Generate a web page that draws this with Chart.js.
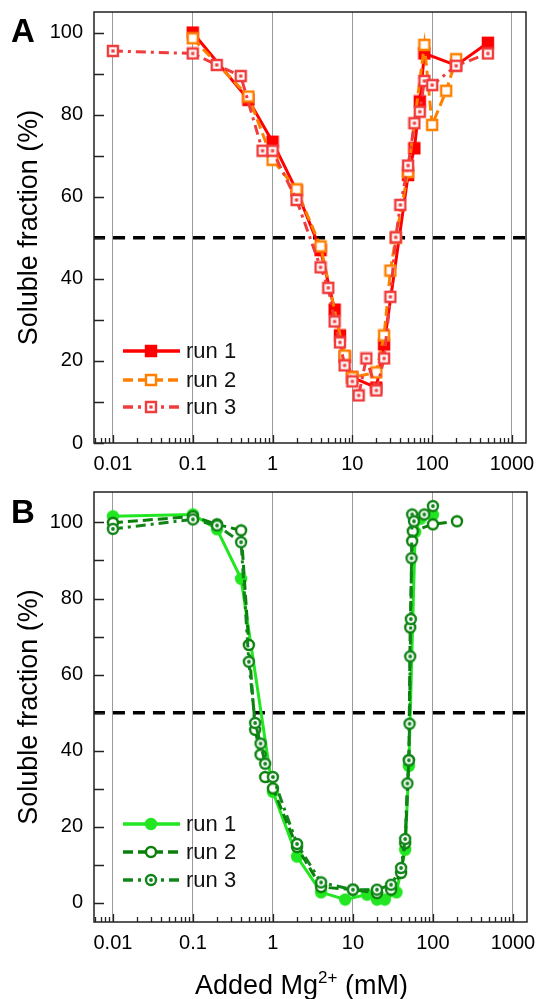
<!DOCTYPE html>
<html><head><meta charset="utf-8">
<script src="https://cdn.jsdelivr.net/npm/chart.js@4.4.1/dist/chart.umd.min.js"></script>
<style>
html,body{margin:0;padding:0;background:#fff;}
#wrap{position:relative;width:537px;height:999px;overflow:hidden;}
canvas{position:absolute;left:0;}
#cA{top:0;} #cB{top:480px;}
</style></head><body>
<div id="wrap"><canvas id="cA" width="537" height="480"></canvas><canvas id="cB" width="537" height="519"></canvas></div>
<script>
// ---------- data ----------
const xTicks = [0.01, 0.1, 1, 10, 100, 1000];
const xTickLabels = ['0.01', '0.1', '1', '10', '100', '1000'];
const yTicks = [0, 20, 40, 60, 80, 100];
const yMinorTicks = [0, 10, 20, 30, 40, 50, 60, 70, 80, 90, 100];
const seriesNames = ['run 1', 'run 2', 'run 3'];
const thresholdX = [0.001, 10000];
const thresholdY = [50, 50];

// Panel A
const aRun1X = [0.1, 0.5, 1, 2, 4, 6, 7, 8, 10, 20, 25, 50, 60, 70, 80, 200, 500];
const aRun1Y = [100, 83.6, 73.4, 61.5, 47.0, 32.5, 26.2, 21.0, 16.0, 13.5, 24.0, 65.3, 71.8, 83.2, 94.9, 92.0, 97.5];
const aRun2X = [0.1, 0.5, 1, 2, 4, 8, 10, 20, 25, 30, 35, 50, 80, 100, 150, 200];
const aRun2Y = [98.6, 84.4, 69.0, 61.8, 47.9, 21.3, 16.0, 17.2, 26.2, 42.0, 50.0, 66.0, 97.0, 77.5, 85.8, 93.5];
const aRun3X = [0.01, 0.1, 0.2, 0.4, 0.75, 1, 2, 4, 5, 6, 7, 8, 10, 12, 15, 20, 25, 30, 35, 40, 50, 60, 70, 80, 100, 200, 500];
const aRun3Y = [95.5, 94.9, 92.1, 89.4, 71.2, 71.2, 59.2, 42.8, 37.8, 29.6, 24.5, 18.9, 15.0, 11.6, 20.6, 12.8, 20.6, 35.6, 50.1, 58.0, 67.6, 77.9, 80.7, 88.2, 87.2, 91.9, 94.9];

// Panel B
const bRun1X = [0.01, 0.1, 0.2, 0.4, 1, 2, 4, 8, 15, 20, 25, 35, 45, 50, 60, 70, 100];
const bRun1Y = [101.6, 102.1, 98.2, 85.2, 29.2, 12.2, 2.8, 0.9, 2.2, 0.9, 0.9, 2.8, 14.0, 36.0, 97.5, 101.0, 102.0];
const bRun2X = [0.01, 0.1, 0.2, 0.4, 0.5, 0.6, 0.7, 0.8, 1, 2, 4, 10, 20, 30, 40, 45, 50, 52, 55, 56, 100, 200];
const bRun2Y = [99.9, 101.6, 99.5, 97.9, 67.8, 45.5, 39.0, 33.1, 30.1, 14.7, 4.2, 3.5, 2.6, 3.5, 7.9, 15.7, 37.5, 72.4, 95.1, 97.7, 99.5, 100.3];
const bRun3X = [0.01, 0.1, 0.2, 0.4, 0.5, 0.6, 0.7, 0.8, 1, 2, 4, 10, 20, 30, 40, 45, 48, 50, 51, 52, 53, 54, 55, 58, 78, 100];
const bRun3Y = [98.3, 100.8, 99.2, 94.8, 63.4, 47.3, 41.9, 36.6, 33.1, 15.5, 5.4, 3.5, 3.5, 4.8, 9.2, 16.8, 31.4, 37.5, 47.1, 64.8, 74.6, 90.6, 102.1, 100.3, 102.1, 104.3];

// ---------- helpers ----------
const FONT = 'Liberation Sans, Arial, sans-serif';
Chart.defaults.font.family = FONT;
Chart.defaults.color = '#000';

function pts(xs, ys) { return xs.map((x, i) => ({ x: x, y: ys[i] })); }

function marker(shape, s, color, filled, dot) {
  const lw = 2.4;
  const n = Math.ceil(s + lw + 1);
  const c = document.createElement('canvas');
  c.width = n; c.height = n;
  const g = c.getContext('2d');
  const m = n / 2;
  g.lineWidth = lw; g.strokeStyle = color; g.fillStyle = filled ? color : '#fff';
  g.beginPath();
  if (shape === 'sq') g.rect(m - s / 2, m - s / 2, s, s); else g.arc(m, m, s / 2, 0, Math.PI * 2);
  g.fill(); g.stroke();
  if (dot) {
    g.fillStyle = color; g.beginPath();
    if (shape === 'sq') g.rect(m - 1.6, m - 1.6, 3.2, 3.2); else g.arc(m, m, 1.9, 0, Math.PI * 2);
    g.fill();
  }
  return c;
}

function runDataset(label, xs, ys, color, dash, style, order) {
  return {
    label: label, data: pts(xs, ys), showLine: true, borderColor: color, backgroundColor: color,
    borderWidth: 3, borderDash: dash, pointStyle: style, pointRadius: 6, pointHoverRadius: 6,
    tension: 0, order: order
  };
}

function thresholdDataset() {
  return {
    label: 'half', data: pts(thresholdX, thresholdY), showLine: true, borderColor: '#000',
    borderWidth: 3.5, borderDash: [12, 8], pointRadius: 0, order: 10
  };
}

const decor = {
  id: 'decor',
  afterDraw(chart, args, o) {
    const { ctx, chartArea: a, scales: { x, y } } = chart;
    ctx.save();
    ctx.strokeStyle = '#222';
    ctx.lineWidth = 1.5;
    ctx.setLineDash([]);
    ctx.strokeRect(a.left, a.top, a.right - a.left, a.bottom - a.top);
    ctx.lineWidth = 1.3;
    ctx.beginPath();
    for (let d = -3; d <= 3; d++) {
      for (let k = 1; k <= 9; k++) {
        const v = k * Math.pow(10, d);
        if (v < x.min || v > x.max) continue;
        const px = Math.round(x.getPixelForValue(v)) + 0.5;
        const len = k === 1 ? 8 : 5;
        ctx.moveTo(px, a.bottom); ctx.lineTo(px, a.bottom - len);
      }
    }
    for (const v of yMinorTicks) {
      if (v < y.min || v > y.max) continue;
      const py = Math.round(y.getPixelForValue(v)) + 0.5;
      ctx.moveTo(a.left, py); ctx.lineTo(a.left + 10, py);
    }
    ctx.stroke();

    // legend
    const dsets = chart.data.datasets.filter(d => seriesNames.includes(d.label));
    dsets.sort((p, q) => seriesNames.indexOf(p.label) - seriesNames.indexOf(q.label));
    dsets.forEach((d, i) => {
      const ly = a.bottom - o.legendOffsets[i];
      ctx.strokeStyle = d.borderColor; ctx.lineWidth = 3.5;
      ctx.setLineDash(d.borderDash || []);
      ctx.beginPath(); ctx.moveTo(a.left + 29, ly); ctx.lineTo(a.left + 86, ly); ctx.stroke();
      ctx.setLineDash([]);
      const img = d.pointStyle;
      ctx.drawImage(img, a.left + 57 - img.width / 2, ly - img.height / 2);
      ctx.fillStyle = '#111';
      ctx.font = '22px ' + FONT;
      ctx.textBaseline = 'middle'; ctx.textAlign = 'left';
      ctx.fillText(d.label, a.left + 92, ly + 1);
    });

    // panel letter
    ctx.fillStyle = '#000';
    ctx.font = 'bold 33px ' + FONT;
    ctx.textBaseline = 'alphabetic'; ctx.textAlign = 'left';
    ctx.fillText(o.letter, 11, o.letterY);

    // x title with superscript
    if (o.xTitle) {
      const c = (a.left + a.right) / 2 - 9;
      const f1 = '27px ' + FONT, f2 = '17px ' + FONT;
      ctx.font = f1; const w1 = ctx.measureText('Added Mg').width; const w3 = ctx.measureText(' (mM)').width;
      ctx.font = f2; const w2 = ctx.measureText('2+').width;
      let sx = c - (w1 + w2 + w3) / 2;
      const by = o.xTitleY;
      ctx.font = f1; ctx.fillText('Added Mg', sx, by); sx += w1;
      ctx.font = f2; ctx.fillText('2+', sx, by - 11); sx += w2;
      ctx.font = f1; ctx.fillText(' (mM)', sx, by);
    }
    ctx.restore();
  }
};

function makeChart(id, datasets, yMin, yMax, xHeight, padTop, padRight, decorOpts) {
  return new Chart(document.getElementById(id), {
    type: 'scatter',
    data: { datasets: datasets },
    plugins: [decor],
    options: {
      responsive: false, animation: false, devicePixelRatio: 1,
      layout: { padding: { top: padTop, right: padRight, left: 0, bottom: 0 } },
      plugins: { legend: { display: false }, tooltip: { enabled: false }, decor: decorOpts },
      scales: {
        x: {
          type: 'logarithmic', min: 0.0058, max: 1500,
          afterBuildTicks: s => { s.ticks = xTicks.map(v => ({ value: v })); },
          afterFit: s => { s.height = xHeight; s.paddingLeft = 0; s.paddingRight = 0; },
          ticks: { callback: (v, i) => xTickLabels[i], font: { size: 20 }, color: '#000', padding: 9, maxRotation: 0, autoSkip: false },
          grid: { color: '#9a9a9a', lineWidth: 1, drawTicks: false },
          border: { display: false }
        },
        y: {
          type: 'linear', min: yMin, max: yMax,
          afterBuildTicks: s => { s.ticks = yTicks.map(v => ({ value: v })); },
          afterFit: s => { s.width = 94; s.paddingTop = 0; s.paddingBottom = 0; },
          ticks: { font: { size: 20 }, color: '#000', padding: 11 },
          grid: { display: false, drawTicks: false },
          border: { display: false },
          title: { display: true, text: 'Soluble fraction (%)', font: { size: 27 }, color: '#000', padding: { top: 13, bottom: 0 } }
        }
      }
    }
  });
}

const red = '#ff0000', orange = '#ff8000', lightRed = '#f03c3c';
const lime = '#22e622', dkGreen = '#0a800a', green = '#12851a';

makeChart('cA', [
  runDataset(seriesNames[0], aRun1X, aRun1Y, red, [], marker('sq', 10, red, true, false), 3),
  runDataset(seriesNames[1], aRun2X, aRun2Y, orange, [10, 5], marker('sq', 10, orange, false, false), 2),
  runDataset(seriesNames[2], aRun3X, aRun3Y, lightRed, [10, 5, 3, 5], marker('sq', 10, lightRed, false, true), 1),
  thresholdDataset()
], 0, 105, 37, 12, 11, { legendOffsets: [92, 63, 36], letter: 'A', letterY: 42 });

makeChart('cB', [
  runDataset(seriesNames[0], bRun1X, bRun1Y, lime, [], marker('ci', 10, lime, true, false), 3),
  runDataset(seriesNames[1], bRun2X, bRun2Y, dkGreen, [10, 5], marker('ci', 10, dkGreen, false, false), 2),
  runDataset(seriesNames[2], bRun3X, bRun3Y, green, [10, 5, 3, 5], marker('ci', 10, green, false, true), 1),
  thresholdDataset()
], -5, 108, 77, 12, 10, { legendOffsets: [98, 70, 42], letter: 'B', letterY: 43, xTitle: true, xTitleY: 514 });
</script>
</body></html>
